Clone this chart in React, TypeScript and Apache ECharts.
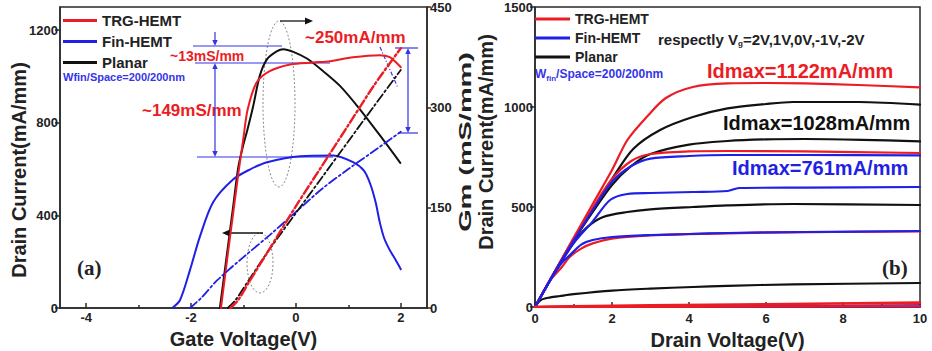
import React, { useEffect, useRef } from "react";
import * as echarts from "echarts";

const FONT = "'Liberation Sans', Arial, Helvetica, sans-serif";
const SERIF = "'Liberation Serif', 'Times New Roman', serif";
const RED = "#ec1c24";
const BLUE = "#1f1fe6";
const BLACK = "#111111";
const AXIS = "#2a2a2a";
const ANNO_BLUE = "#3535e8";

// ---------- panel (a): transfer / transconductance ----------
const gateTicks = [-4, -2, 0, 2];
const gateMinorTicks = [-3, -1, 1];
const idTicksA = [0, 400, 800, 1200];
const gmTicks = [0, 150, 300, 450];

// Gm (mS/mm) vs Vg (V)
const gmTrg = [
  [-1.43, 0], [-1.3, 80], [-1.2, 140], [-1.1, 200], [-1.0, 255], [-0.92, 297],
  [-0.75, 337], [-0.5, 354], [-0.11, 364], [0.33, 367], [0.65, 369], [1.09, 375],
  [1.6, 378], [1.79, 375], [1.95, 364], [2.0, 360],
];
const gmFin = [
  [-2.36, 0], [-2.21, 12], [-2.02, 57], [-1.83, 107], [-1.58, 158], [-1.2, 192],
  [-0.88, 207], [-0.55, 218], [0.08, 227], [0.71, 228], [1.09, 218], [1.3, 205],
  [1.42, 185], [1.52, 158], [1.6, 128], [1.68, 105], [1.78, 88], [1.9, 72], [2.0, 58],
];
const gmPlanar = [
  [-1.45, 0], [-1.3, 90], [-1.2, 150], [-1.1, 210], [-1.0, 245], [-0.93, 265],
  [-0.82, 300], [-0.69, 347], [-0.55, 372], [-0.36, 384], [-0.24, 387], [-0.05, 383],
  [0.21, 373], [0.52, 354], [0.84, 332], [1.22, 297], [1.66, 252], [1.99, 217],
];
// Id (mA/mm) vs Vg (V)
const idTrgA = [
  [-1.25, 0], [-1.1, 35], [-0.9, 110], [-0.55, 238], [0, 440], [0.5, 615],
  [1.0, 790], [1.5, 965], [2.0, 1122],
];
const idPlanarA = [
  [-1.3, 0], [-1.15, 35], [-0.9, 120], [-0.5, 255], [0, 410], [0.5, 565],
  [1.0, 720], [1.5, 875], [2.0, 1028],
];
const idFinA = [
  [-2.02, 0], [-1.8, 45], [-1.5, 120], [-1.0, 220], [-0.5, 315], [0, 415],
  [0.5, 515], [1.0, 600], [1.5, 680], [2.0, 761],
];

// ---------- panel (b): output characteristics ----------
const drainTicks = [0, 2, 4, 6, 8, 10];
const drainMinorTicks = [1, 3, 5, 7, 9];
const idTicksB = [0, 500, 1000, 1500];

const trgVg2 = [[0, 0], [0.5, 173], [1, 345], [1.5, 515], [2, 685], [2.4, 835], [2.9, 950], [3.4, 1045], [4.1, 1100], [5, 1118], [6, 1120], [7, 1118], [8.4, 1110], [10, 1098]];
const trgVg1 = [[0, 0], [0.5, 172], [1, 335], [1.5, 495], [2, 640], [2.5, 730], [3, 765], [4, 778], [5, 780], [7, 778], [10, 770]];
const trgVg0 = [[0, 0], [0.4, 135], [0.7, 200], [0.9, 250], [1.2, 292], [1.5, 318], [2, 342], [3, 358], [4, 364], [6, 372], [10, 378]];
const trgVgM1 = [[0, 0], [1, 4], [3, 8], [6, 14], [10, 22]];
const trgVgM2 = [[0, 0], [10, 4]];

const planarVg2 = [[0, 0], [0.5, 172], [1, 338], [1.5, 490], [2, 640], [2.55, 790], [3.25, 885], [4.1, 950], [5, 993], [6, 1015], [6.7, 1025], [8.4, 1025], [10, 1012]];
const planarVg1 = [[0, 0], [0.5, 170], [1, 330], [1.5, 475], [2, 610], [2.5, 705], [3, 765], [4, 812], [5, 830], [6, 838], [7, 840], [8.5, 836], [10, 828]];
const planarVg0 = [[0, 0], [0.5, 168], [1, 320], [1.35, 398], [1.77, 450], [2.4, 475], [3, 488], [4.1, 500], [5, 508], [6.7, 515], [10, 510]];
const planarVgM1 = [[0, 0], [0.15, 35], [0.4, 48], [0.65, 55], [1, 64], [2, 82], [3, 92], [4.1, 100], [5, 106], [6.7, 113], [10, 120]];
const planarVgM2 = [[0, 0], [10, 6]];

const finVg2 = [[0, 0], [0.5, 170], [1, 330], [1.5, 485], [2, 625], [2.5, 705], [3, 742], [4, 755], [5, 760], [7, 760], [10, 758]];
const finVg1 = [[0, 0], [0.5, 170], [1, 318], [1.5, 428], [1.95, 535], [2.4, 565], [3, 570], [4.1, 575], [5, 580], [5.3, 595], [7, 597], [10, 600]];
const finVg0 = [[0, 0], [0.4, 135], [0.7, 222], [0.9, 258], [1.2, 312], [1.5, 335], [2, 350], [3, 360], [4, 365], [5, 370], [7, 375], [10, 380]];
const finVgM1 = [[0, 0], [10, 8]];
const finVgM2 = [[0, 0], [10, 2]];

const legendNames = ["TRG-HEMT", "Fin-HEMT", "Planar"];

function lineSeries(name: string, data: number[][], color: string, xi: number, yi: number, width: number, dash?: number[]) {
  return {
    type: "line",
    name,
    data,
    xAxisIndex: xi,
    yAxisIndex: yi,
    symbol: "none",
    smooth: 0.3,
    color,
    lineStyle: { color, width, type: dash ? dash : "solid", cap: "round", join: "round" },
    emphasis: { disabled: true },
    silent: true,
  };
}

function arrowHead(x: number, y: number, dx: number, dy: number, size: number, color: string) {
  const len = Math.hypot(dx, dy);
  const ux = dx / len, uy = dy / len;
  const nx = -uy, ny = ux;
  const bx = x - ux * size, by = y - uy * size;
  const w = size * 0.45;
  return {
    type: "polygon",
    shape: { points: [[x, y], [bx + nx * w, by + ny * w], [bx - nx * w, by - ny * w]] },
    style: { fill: color },
    silent: true,
  };
}

function seg(x1: number, y1: number, x2: number, y2: number, color: string, width: number, dash?: number[]) {
  return {
    type: "line",
    shape: { x1, y1, x2, y2 },
    style: { stroke: color, lineWidth: width, lineDash: dash },
    silent: true,
  };
}

function label(text: string, x: number, y: number, size: number, color: string, extra: any = {}) {
  return {
    type: "text",
    x,
    y,
    silent: true,
    style: {
      text,
      fill: color,
      fontSize: size,
      fontWeight: "bold",
      fontFamily: FONT,
      align: "left",
      verticalAlign: "middle",
      ...extra,
    },
  };
}

const plain = (v: number) => String(v);
const tickLabel = { fontSize: 13, fontWeight: "bold", color: "#222", fontFamily: FONT, formatter: plain };
const axisLine = { show: true, onZero: false, lineStyle: { color: AXIS, width: 1.5 } };
const tickLine = { color: AXIS, width: 1.5 };

function buildOption() {
  const xAxis = [
    {
      type: "value", gridIndex: 0, position: "bottom", min: -4.5, max: 2.5,
      axisLine, splitLine: { show: false },
      axisTick: { show: true, inside: true, length: 5, customValues: gateTicks, lineStyle: tickLine },
      axisLabel: { ...tickLabel, margin: 3, customValues: gateTicks },
      name: "Gate Voltage(V)", nameLocation: "middle", nameGap: 19,
      nameTextStyle: { fontSize: 20, fontWeight: "bold", color: "#222", fontFamily: FONT },
    },
    {
      type: "value", gridIndex: 0, position: "bottom", min: -4.5, max: 2.5,
      axisLine: { show: false }, splitLine: { show: false }, axisLabel: { show: false },
      axisTick: { show: true, inside: true, length: 3, customValues: gateMinorTicks, lineStyle: tickLine },
    },
    {
      type: "value", gridIndex: 1, position: "bottom", min: 0, max: 10,
      axisLine, splitLine: { show: false },
      axisTick: { show: true, inside: true, length: 5, customValues: drainTicks, lineStyle: tickLine },
      axisLabel: { ...tickLabel, margin: 5, customValues: drainTicks },
      name: "Drain Voltage(V)", nameLocation: "middle", nameGap: 17,
      nameTextStyle: { fontSize: 20, fontWeight: "bold", color: "#222", fontFamily: FONT },
    },
    {
      type: "value", gridIndex: 1, position: "bottom", min: 0, max: 10,
      axisLine: { show: false }, splitLine: { show: false }, axisLabel: { show: false },
      axisTick: { show: true, inside: true, length: 3, customValues: drainMinorTicks, lineStyle: tickLine },
    },
  ];
  const yAxis = [
    {
      type: "value", gridIndex: 0, position: "left", min: 0, max: 1300,
      axisLine, splitLine: { show: false },
      axisTick: { show: true, inside: false, length: 5, customValues: idTicksA, lineStyle: tickLine },
      axisLabel: { ...tickLabel, margin: 2, customValues: idTicksA },
    },
    {
      type: "value", gridIndex: 0, position: "right", min: 0, max: 450,
      axisLine, splitLine: { show: false },
      axisTick: { show: true, inside: false, length: 4, customValues: gmTicks, lineStyle: tickLine },
      axisLabel: { ...tickLabel, margin: 3, customValues: gmTicks },
    },
    {
      type: "value", gridIndex: 1, position: "left", min: 0, max: 1500,
      axisLine, splitLine: { show: false },
      axisTick: { show: true, inside: false, length: 5, customValues: idTicksB, lineStyle: tickLine },
      axisLabel: { ...tickLabel, margin: 2, customValues: idTicksB },
    },
  ];

  const series = [
    // panel (a) transconductance (right axis)
    lineSeries("Planar", gmPlanar, BLACK, 0, 1, 2),
    lineSeries("Fin-HEMT", gmFin, BLUE, 0, 1, 2),
    lineSeries("TRG-HEMT", gmTrg, RED, 0, 1, 2),
    // panel (a) drain current (left axis), dash-dot
    lineSeries("Fin-HEMT", idFinA, BLUE, 0, 0, 1.8, [9, 3, 2, 3]),
    lineSeries("Planar", idPlanarA, BLACK, 0, 0, 1.8, [9, 3, 2, 3]),
    lineSeries("TRG-HEMT", idTrgA, RED, 0, 0, 2.4, [9, 3, 2, 3]),
    // panel (b)
    lineSeries("Planar", planarVg2, BLACK, 2, 2, 2.2),
    lineSeries("Planar", planarVg1, BLACK, 2, 2, 2.2),
    lineSeries("Planar", planarVg0, BLACK, 2, 2, 2.2),
    lineSeries("Planar", planarVgM1, BLACK, 2, 2, 2.2),
    lineSeries("Planar", planarVgM2, BLACK, 2, 2, 2.2),
    lineSeries("TRG-HEMT", trgVg2, RED, 2, 2, 2.2),
    lineSeries("TRG-HEMT", trgVg1, RED, 2, 2, 2.2),
    lineSeries("TRG-HEMT", trgVg0, RED, 2, 2, 2.2),
    lineSeries("Fin-HEMT", finVgM2, BLUE, 2, 2, 2.2),
    lineSeries("Fin-HEMT", finVgM1, BLUE, 2, 2, 2.2),
    lineSeries("Fin-HEMT", finVg0, BLUE, 2, 2, 2.2),
    lineSeries("Fin-HEMT", finVg1, BLUE, 2, 2, 2.2),
    lineSeries("Fin-HEMT", finVg2, BLUE, 2, 2, 2.2),
    lineSeries("TRG-HEMT", trgVgM1, RED, 2, 2, 2.6),
    lineSeries("TRG-HEMT", trgVgM2, RED, 2, 2, 2.6),
  ];

  const legendText = { fontSize: 15, fontWeight: "bold", color: "#222", fontFamily: FONT };
  const legend = [
    {
      data: legendNames, orient: "vertical", left: 63, top: 13, icon: "rect",
      itemWidth: 34, itemHeight: 3, itemGap: 6, selectedMode: false, padding: 0,
      textStyle: legendText,
    },
    {
      data: legendNames, orient: "vertical", left: 535, top: 12, icon: "rect",
      itemWidth: 35, itemHeight: 3, itemGap: 5, selectedMode: false, padding: 0,
      textStyle: { ...legendText, fontSize: 14 },
    },
  ];

  const subStyle = { fontSize: 8, fontWeight: "bold", fontFamily: FONT, verticalAlign: "bottom", lineHeight: 16 };

  const graphic = [
    // rotated axis names
    {
      type: "text", x: 19, y: 170, rotation: Math.PI / 2, silent: true,
      style: { text: "Drain Current(mA/mm)", fill: "#222", fontSize: 20, fontWeight: "bold", fontFamily: FONT, align: "center", verticalAlign: "middle" },
    },
    {
      type: "text", x: 465, y: 142, rotation: Math.PI / 2, scaleX: 1.7, silent: true,
      style: { text: "Gm (mS/mm)", fill: "#222", fontSize: 17, fontWeight: "bold", fontFamily: FONT, align: "center", verticalAlign: "middle" },
    },
    {
      type: "text", x: 486, y: 142, rotation: Math.PI / 2, silent: true,
      style: { text: "Drain Current(mA/mm)", fill: "#222", fontSize: 20, fontWeight: "bold", fontFamily: FONT, align: "center", verticalAlign: "middle" },
    },
    // panel (a) annotations
    label("Wfin/Space=200/200nm", 63, 77, 11, ANNO_BLUE),
    label("~250mA/mm", 305, 37, 17, RED),
    label("~13mS/mm", 170, 56, 14, RED),
    label("~149mS/mm", 142, 110, 17, RED),
    label("(a)", 77, 268, 21, "#222", { fontFamily: SERIF }),
    {
      type: "ellipse", shape: { cx: 279, cy: 104, rx: 16, ry: 83 }, silent: true,
      style: { fill: "none", stroke: "#8a8a8a", lineWidth: 1, lineDash: [2, 2] },
    },
    {
      type: "ellipse", shape: { cx: 260, cy: 263, rx: 13, ry: 30 }, silent: true,
      style: { fill: "none", stroke: "#8a8a8a", lineWidth: 1, lineDash: [2, 2] },
    },
    seg(280, 21, 306, 21, "#111", 1.3),
    arrowHead(313, 21, 1, 0, 8, "#111"),
    seg(263, 233, 229, 233, "#111", 1.3),
    arrowHead(222, 233, -1, 0, 8, "#111"),
    // blue brackets
    seg(193, 46, 282, 46, ANNO_BLUE, 1.2),
    seg(195, 63, 330, 63, ANNO_BLUE, 1.2),
    seg(197, 157, 333, 157, ANNO_BLUE, 1.2),
    seg(215, 32, 215, 40, ANNO_BLUE, 1.2),
    arrowHead(215, 46, 0, 1, 6, ANNO_BLUE),
    seg(215, 69, 215, 151, ANNO_BLUE, 1.2),
    arrowHead(215, 63, 0, -1, 6, ANNO_BLUE),
    arrowHead(215, 157, 0, 1, 6, ANNO_BLUE),
    seg(395, 48, 418, 48, ANNO_BLUE, 1.2),
    seg(398, 133, 418, 133, ANNO_BLUE, 1.2),
    seg(408, 54, 408, 127, ANNO_BLUE, 1.2),
    arrowHead(408, 48, 0, -1, 6, ANNO_BLUE),
    arrowHead(408, 133, 0, 1, 6, ANNO_BLUE),
    seg(380, 47, 398, 88, ANNO_BLUE, 1.2, [4, 2, 1, 2]),
    // panel (b) annotations
    label("W{s|fin}/Space=200/200nm", 535, 74, 12, ANNO_BLUE, { rich: { s: { ...subStyle, fill: ANNO_BLUE } } }),
    label("respectly V{s|g}=2V,1V,0V,-1V,-2V", 658, 39, 15, "#222", { rich: { s: { ...subStyle, fill: "#222" } } }),
    label("Idmax=1122mA/mm", 707, 71, 20, RED),
    label("Idmax=1028mA/mm", 723, 123, 20, BLACK),
    label("Idmax=761mA/mm", 732, 168, 20, BLUE),
    label("(b)", 882, 268, 21, "#222", { fontFamily: SERIF }),
  ];

  return {
    animation: false,
    backgroundColor: "#ffffff",
    textStyle: { fontFamily: FONT },
    grid: [
      { left: 60, top: 7, width: 367, height: 301, show: true, borderColor: AXIS, borderWidth: 1.5, containLabel: false, outerBoundsMode: "none" },
      { left: 535, top: 7, width: 385, height: 300, show: true, borderColor: AXIS, borderWidth: 1.5, containLabel: false, outerBoundsMode: "none" },
    ],
    legend,
    xAxis,
    yAxis,
    series,
    graphic,
  };
}

export default function App() {
  const ref = useRef<HTMLDivElement>(null);
  useEffect(() => {
    document.body.style.margin = "0";
    const chart = echarts.init(ref.current as HTMLDivElement, null, { renderer: "svg" });
    chart.setOption(buildOption() as any);
    return () => chart.dispose();
  }, []);
  return <div ref={ref} style={{ width: 932, height: 351 }} />;
}
